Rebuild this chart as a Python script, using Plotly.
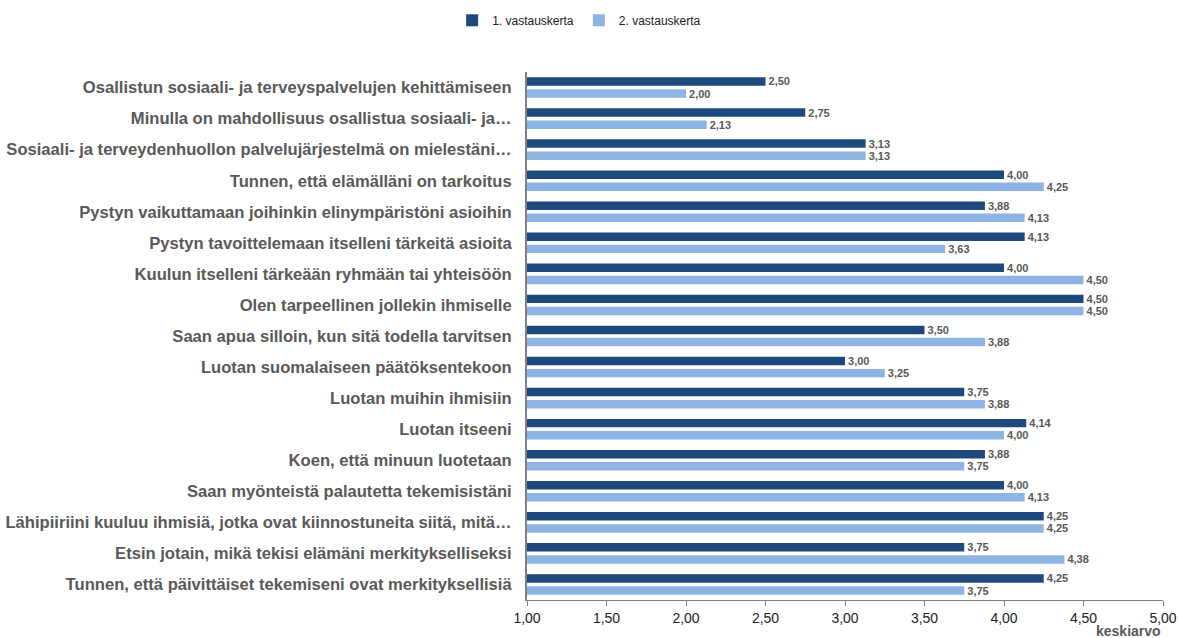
import plotly.graph_objects as go

categories = [
    "Osallistun sosiaali- ja terveyspalvelujen kehittämiseen",
    "Minulla on mahdollisuus osallistua sosiaali- ja…",
    "Sosiaali- ja terveydenhuollon palvelujärjestelmä on mielestäni…",
    "Tunnen, että elämälläni on tarkoitus",
    "Pystyn vaikuttamaan joihinkin elinympäristöni asioihin",
    "Pystyn tavoittelemaan itselleni tärkeitä asioita",
    "Kuulun itselleni tärkeään ryhmään tai yhteisöön",
    "Olen tarpeellinen jollekin ihmiselle",
    "Saan apua silloin, kun sitä todella tarvitsen",
    "Luotan suomalaiseen päätöksentekoon",
    "Luotan muihin ihmisiin",
    "Luotan itseeni",
    "Koen, että minuun luotetaan",
    "Saan myönteistä palautetta tekemisistäni",
    "Lähipiiriini kuuluu ihmisiä, jotka ovat kiinnostuneita siitä, mitä…",
    "Etsin jotain, mikä tekisi elämäni merkitykselliseksi",
    "Tunnen, että päivittäiset tekemiseni ovat merkityksellisiä",
]
kerta1 = [2.50, 2.75, 3.13, 4.00, 3.88, 4.13, 4.00, 4.50, 3.50, 3.00, 3.75, 4.14, 3.88, 4.00, 4.25, 3.75, 4.25]
kerta2 = [2.00, 2.13, 3.13, 4.25, 4.13, 3.63, 4.50, 4.50, 3.88, 3.25, 3.88, 4.00, 3.75, 4.13, 4.25, 4.38, 3.75]
series_names = ["1. vastauskerta", "2. vastauskerta"]
tick_vals = [1.0, 1.5, 2.0, 2.5, 3.0, 3.5, 4.0, 4.5, 5.0]
x_title = "keskiarvo"

colors = ["#1F497D", "#8DB4E2"]

fig = go.Figure()
for name, vals, col in zip(series_names, [kerta1, kerta2], colors):
    fig.add_trace(go.Bar(
        y=categories, x=vals, name=name, orientation="h",
        marker=dict(color=col, line=dict(width=0)),
        texttemplate="%{x:.2f}", textposition="outside",
        constraintext="none",
        textfont=dict(family="Liberation Sans, Arial", size=11, color="#595959", weight="bold"),
        cliponaxis=False,
    ))

fig.update_layout(
    width=1179, height=638,
    margin=dict(l=527, r=16, t=72, b=38, autoexpand=False),
    barmode="group", bargap=0.22, bargroupgap=0.3,
    separators=", ",
    plot_bgcolor="white", paper_bgcolor="white",
    showlegend=True,
    legend=dict(orientation="h", x=0.082, xanchor="center",
                y=1.098, yanchor="middle",
                font=dict(family="Liberation Sans, Arial", size=12, color="#222222"),
                itemwidth=30, traceorder="normal", tracegroupgap=0),
    font=dict(family="Liberation Sans, Arial"),
)
fig.update_xaxes(
    range=[1, 5], tickvals=tick_vals, tickformat=".2f",
    showgrid=False, zeroline=False, automargin=False,
    showline=True, linecolor="#808080", linewidth=1,
    ticks="outside", ticklen=5, tickcolor="#808080",
    tickfont=dict(size=14, color="#222222"),
)
fig.update_yaxes(
    autorange="reversed", showgrid=False, automargin=False,
    showline=True, linecolor="#808080", linewidth=2,
    ticks="", ticklabelstandoff=10,
    tickfont=dict(size=16.6, color="#595959", weight="bold"),
)
fig.add_annotation(
    text="<b>" + x_title + "</b>", xref="paper", yref="paper",
    x=1.0, y=-0.058, xanchor="right", yanchor="middle", showarrow=False,
    font=dict(size=14, color="#595959"),
)
fig.write_html("out.html", config={"displayModeBar": False},
               post_script="document.body.style.margin='0px';")
